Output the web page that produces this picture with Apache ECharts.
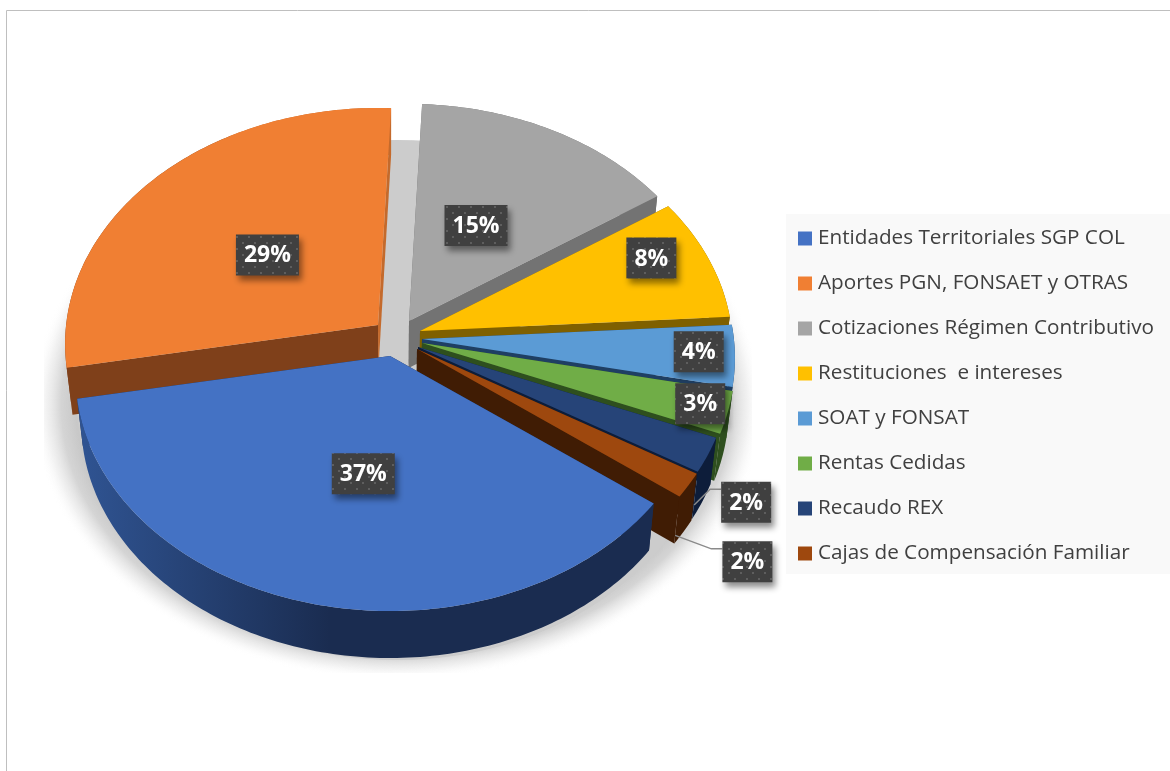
<!DOCTYPE html>
<html>
<head>
<meta charset="utf-8">
<style>
  html, body { margin: 0; padding: 0; background: #fff; }
  #chart { width: 1170px; height: 771px; }
</style>
<script src="https://cdn.jsdelivr.net/npm/echarts@6/dist/echarts.min.js"></script>
</head>
<body>
<div id="chart"></div>
<script>
// datos
const categories = ['Entidades Territoriales SGP COL', 'Aportes PGN, FONSAET y OTRAS', 'Cotizaciones Régimen Contributivo', 'Restituciones  e intereses', 'SOAT y FONSAT', 'Rentas Cedidas', 'Recaudo REX', 'Cajas de Compensación Familiar'];
const values = [36.9, 28.6, 14.9, 8.4, 4.2, 2.9, 2.4, 1.7];

// colores
const topColors = ['#4472C4', '#F07F33', '#A5A5A5', '#FFC000', '#5B9BD5', '#70AD47', '#264478', '#9E480E'];
const sideColors = ['#1A2C50', '#7F401A', '#737373', '#7F6000', '#1F3F63', '#2E4F1E', '#0D1D3A', '#401C04'];
const endSideColors = ['#1A2C50', '#C46A2C', '#737373', '#7F6000', '#1F3F63', '#2E4F1E', '#0D1D3A', '#401C04'];

// vertice de cada porcion (pie explotado)
const apexes = [[390, 356], [378, 325], [409, 321], [420, 331], [422, 339], [422, 343], [418, 347], [417, 349]];
const radiusScale = [0.992, 0.987, 0.987, 0.987, 0.987, 0.987, 0.987, 0.987];
const paintOrder = [8, 2, 1, 3, 4, 5, 6, 7]; // z de cada porcion: gris, naranja, amarillo ... azul al frente
// donde va cada etiqueta: radio y desplazamiento respecto al angulo medio
const labelRadius = [0.49, 0.475, 0.476, 0.825, 0.885, 0.91, 1.18, 1.3];
const labelShift = [-3.6, -1.0, -1.6, -4.1, -0.5, -0.6, 5.8, 6.85];

const START_ANGLE = 126.8;
const RX = 316, RY = 234.5, PERSP = 0.0805;
const DEPTH = 47, SHRINK = 0.982, VANISH_X = 390;

const total = values.reduce((a, b) => a + b, 0);
let acc = 0;
const angles = values.map(v => {
  const from = START_ANGLE + acc / total * 360;
  acc += v;
  return [from, START_ANGLE + acc / total * 360];
});

function project(i, deg, r) {
  const t = deg * Math.PI / 180;
  const X = r * Math.sin(t), Z = r * Math.cos(t);
  const d = 1 + PERSP * Z;
  return [apexes[i][0] + X * RX * radiusScale[i] / d, apexes[i][1] - Z * RY / d];
}
function lower(p) {
  return [VANISH_X + (p[0] - VANISH_X) * SHRINK, p[1] + DEPTH];
}

// trama de puntos de las etiquetas
const dots = document.createElement('canvas');
dots.width = 12; dots.height = 12;
const dctx = dots.getContext('2d');
dctx.fillStyle = '#404040';
dctx.fillRect(0, 0, 12, 12);
dctx.fillStyle = '#5E5E5E';
dctx.fillRect(2, 2, 2, 2);
dctx.fillRect(8, 8, 2, 2);

function renderSlice(params, api) {
  const i = params.seriesIndex;
  const a0 = angles[i][0], a1 = angles[i][1];
  const arc = [];
  for (let a = a0; a < a1; a += 1) arc.push(project(i, a, 1));
  arc.push(project(i, a1, 1));
  const apex = apexes[i];
  const apexLow = lower(apex);
  const first = arc[0], last = arc[arc.length - 1];
  const lowArc = arc.map(lower).reverse();
  let outerFill = sideColors[i];
  if (i === 0) {
    outerFill = new echarts.graphic.LinearGradient(85, 0, 330, 0, [
      { offset: 0, color: '#2F5391' },
      { offset: 1, color: '#1A2C50' }
    ], true);
  } else if (i === 1) {
    // la franja de arriba a la derecha es mas clara
    outerFill = new echarts.graphic.LinearGradient(65, 0, 395, 0, [
      { offset: 0, color: '#7F401A' },
      { offset: 0.5, color: '#7F401A' },
      { offset: 0.5, color: '#C46A2C' },
      { offset: 1, color: '#C46A2C' }
    ], true);
  }
  return {
    type: 'group',
    children: [
      { type: 'polygon', shape: { points: [apex, first, lower(first), apexLow] }, style: { fill: sideColors[i] } },
      { type: 'polygon', shape: { points: [apex, last, lower(last), apexLow] }, style: { fill: endSideColors[i] } },
      { type: 'polygon', shape: { points: arc.concat(lowArc) }, style: { fill: outerFill } },
      { type: 'polygon', shape: { points: [apex].concat(arc) }, style: { fill: topColors[i] } }
    ]
  };
}

function renderLabel(params, api) {
  const i = params.dataIndex;
  const text = Math.round(api.value(0) / total * 100) + '%';
  const mid = (angles[i][0] + angles[i][1]) / 2;
  const c = project(i, mid + labelShift[i], labelRadius[i]);
  const w = text.length === 3 ? 63 : 50, h = 41;
  const children = [];
  if (labelRadius[i] > 1) {
    // linea guia de las porciones pequenas
    const p = lower(project(i, mid, 1));
    const y = c[1] - 13;
    children.push({
      type: 'polyline',
      shape: { points: [[p[0] - 8, p[1] + 3], [c[0] - w / 2 - 11, y], [c[0] - w / 2, y]] },
      style: { fill: null, stroke: '#8A8A8A', lineWidth: 1.5 }
    });
  }
  children.push({
    type: 'rect',
    shape: { x: c[0] - w / 2, y: c[1] - h / 2, width: w, height: h },
    style: {
      fill: { image: dots, repeat: 'repeat' },
      shadowBlur: 6, shadowOffsetX: 3, shadowOffsetY: 5, shadowColor: 'rgba(0,0,0,0.45)'
    }
  });
  children.push({
    type: 'text',
    style: {
      x: c[0], y: c[1] + 1, text: text, align: 'center', verticalAlign: 'middle',
      fill: '#fff', font: 'bold 23px "Open Sans"'
    }
  });
  return { type: 'group', children: children };
}

function renderShadow() {
  return {
    type: 'group',
    clipPath: { type: 'rect', shape: { x: 44, y: 140, width: 708, height: 533 } },
    children: [
      {
        type: 'circle',
        x: 397, y: 405, scaleY: 275 / 365,
        shape: { cx: 0, cy: 0, r: 365 },
        style: {
          fill: new echarts.graphic.RadialGradient(0.5, 0.5, 0.5, [
            { offset: 0, color: '#C8C8C8' },
            { offset: 0.88, color: '#C8C8C8' },
            { offset: 0.92, color: 'rgba(205,205,205,0.85)' },
            { offset: 0.96, color: 'rgba(225,225,225,0.45)' },
            { offset: 1, color: 'rgba(255,255,255,0)' }
          ])
        }
      },
      // piso nitido que se ve solo en la abertura entre porciones
      {
        type: 'circle',
        x: 397, y: 400, scaleY: 260 / 320,
        shape: { cx: 0, cy: 0, r: 320 },
        style: { fill: '#CCCCCC' }
      }
    ]
  };
}

const series = categories.map((name, i) => ({
  name: name,
  type: 'custom',
  coordinateSystem: 'none',
  renderItem: renderSlice,
  data: [[values[i]]],
  z: 10 + paintOrder[i],
  silent: true,
  itemStyle: { color: topColors[i] }
}));
series.push({
  name: 'sombra', type: 'custom', coordinateSystem: 'none',
  renderItem: renderShadow, data: [[0]], z: 1, silent: true
});
series.push({
  name: 'etiquetas', type: 'custom', coordinateSystem: 'none',
  renderItem: renderLabel, data: values.map(v => [v]), z: 30, silent: true
});

const myChart = echarts.init(document.getElementById('chart'));
myChart.setOption({
  animation: false,
  graphic: [
    { type: 'line', z: 0, shape: { x1: 6.5, y1: 10.5, x2: 1170, y2: 10.5 }, style: { stroke: '#BFBFBF', lineWidth: 1 } },
    { type: 'line', z: 0, shape: { x1: 6.5, y1: 10.5, x2: 6.5, y2: 771 }, style: { stroke: '#BFBFBF', lineWidth: 1 } },
    { type: 'rect', z: 0, shape: { x: 786, y: 214, width: 384, height: 360 }, style: { fill: '#F9F9F9' } }
  ],
  legend: {
    data: categories,
    orient: 'vertical',
    left: 798,
    top: 228,
    padding: 0,
    icon: 'rect',
    itemWidth: 14,
    itemHeight: 14,
    itemGap: 24,
    selectedMode: false,
    textStyle: { color: '#404040', fontFamily: 'Open Sans', fontSize: 20.7, padding: [0, 0, 0, 1] }
  },
  series: series
});
</script>
</body>
</html>
